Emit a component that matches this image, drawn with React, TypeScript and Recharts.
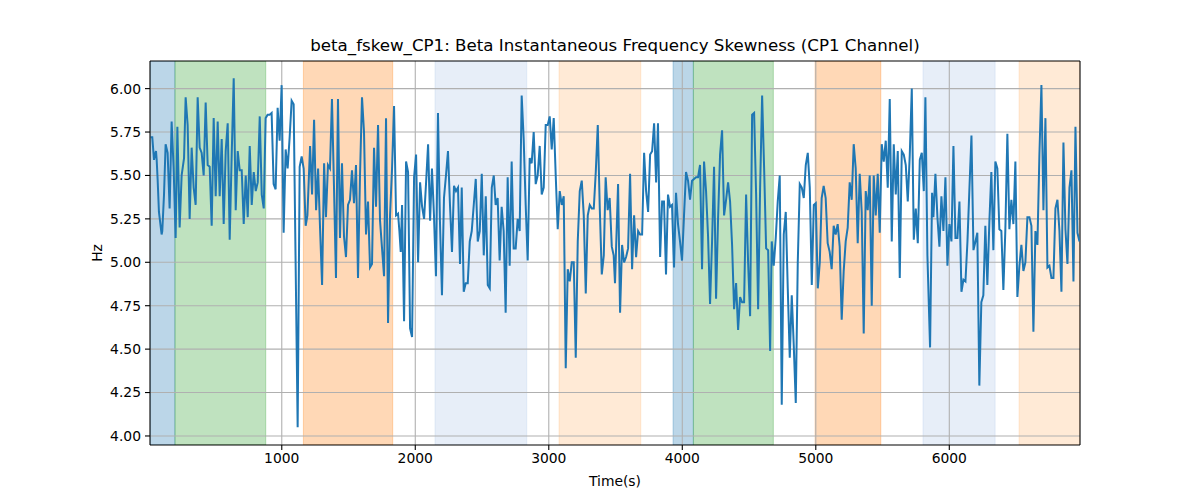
import React from 'react';
import { LineChart, Line, XAxis, YAxis, ReferenceArea, ReferenceLine } from 'recharts';

const TIMES = [
  18,30,43,50,58,63,70,80,100,105,
  118,130,145,160,175,190,205,218,235,250,
  268,280,295,310,325,340,355,370,385,400,
  415,430,445,460,475,490,505,520,535,550,
  565,580,595,610,625,640,655,670,685,700,
  715,730,745,760,775,790,805,820,835,850,
  865,879,894,909,924,939,954,969,984,999,
  1014,1029,1044,1059,1074,1089,1119,1134,1149,1164,
  1179,1192,1212,1227,1242,1257,1272,1287,1302,1317,
  1331,1346,1361,1376,1391,1406,1421,1436,1451,1466,
  1481,1496,1511,1526,1541,1556,1571,1586,1601,1616,
  1631,1646,1661,1676,1691,1706,1721,1736,1751,1766,
  1781,1796,1811,1826,1841,1856,1871,1881,1891,1901,
  1916,1931,1946,1961,1976,1991,2006,2021,2036,2051,
  2066,2081,2096,2111,2125,2140,2155,2170,2185,2200,
  2215,2230,2245,2260,2275,2290,2305,2320,2335,
  2348,2363,2378,2393,2408,2423,2438,2453,2468,2483,
  2498,2513,2528,2543,2558,2573,2588,2602,2617,2632,
  2647,2662,2677,2692,2707,2722,2737,2752,2767,2782,
  2797,2812,2827,2842,2857,2872,2887,2902,2917,2932,
  2947,2962,2977,2992,3007,3022,3037,3052,3067,3082,
  3097,3112,3127,3142,3157,3172,3187,3202,3217,3232,
  3247,3262,3277,3292,3307,3322,3337,3352,3367,3382,
  3397,3412,3426,3441,3456,3472,3486,3496,
  3519,3534,3549,3564,3579,3594,3609,3624,3639,3654,
  3669,3684,3699,3714,3729,3744,3759,3774,3789,3804,
  3818,3834,3849,3863,3878,3893,3908,3923,3938,3953,
  3968,3983,3998,4013,4028,4043,4058,4073,4088,4103,
  4118,4133,4148,4163,4178,4193,4208,4223,4238,4253,
  4268,4283,4298,4313,4328,4343,4358,4373,4388,4403,
  4418,4433,4448,4463,4478,4493,4508,4523,4538,4553,
  4568,4583,4598,4613,4628,4643,4658,
  4670,4685,4700,4715,4730,4745,4760,4775,4790,4805,
  4820,4835,4850,4865,4880,4895,4910,4925,4940,4955,
  4970,4985,5000,5015,5030,5044,5059,5074,5089,5104,
  5119,5134,5149,5164,5179,5194,5209,5224,5239,5254,
  5269,5284,5299,5314,5329,5344,5359,5374,5389,5404,
  5419,5434,5449,5464,5479,5494,5509,5524,5539,5554,
  5569,5584,5599,5614,5629,5644,5659,5674,5689,5704,
  5719,5734,5749,5764,5779,5794,5809,
  5821,5836,5856,5871,5881,5896,5911,5926,5941,5956,
  5971,5986,6001,6016,6031,6046,6061,6076,6091,6106,
  6121,6136,6151,6166,6181,6196,6210,6225,6240,6255,
  6270,6285,6300,6315,6330,6345,6360,6375,6390,6405,
  6420,6435,6450,6465,6480,6495,6510,6525,6540,6555,
  6570,6585,6600,6615,6630,6645,6660,6675,6690,6705,
  6720,6735,6750,6765,6780,6795,6810,6825,6840,6855,
  6870,6885,6900,6915,6930,6945,6960,6975,
];

const VALUES = [
  5.72,5.72,5.59,5.62,5.64,5.59,5.48,5.29,5.16,5.18,
  5.39,5.68,5.63,5.31,5.81,5.54,5.14,5.78,5.20,5.50,
  5.60,5.95,5.79,5.25,5.66,5.43,5.33,5.95,5.66,5.63,
  5.50,5.92,5.56,5.55,5.21,5.83,5.38,5.81,5.38,5.71,
  5.22,5.64,5.80,5.13,5.62,6.06,5.30,5.64,5.53,5.53,
  5.22,5.50,5.26,5.67,5.33,5.52,5.41,5.46,5.84,5.39,
  5.31,5.83,5.85,5.85,5.86,5.45,5.42,5.89,5.70,6.02,
  5.17,5.65,5.54,5.72,5.93,5.91,4.05,5.55,5.61,5.54,
  5.21,5.27,5.67,5.39,5.82,5.30,5.54,5.19,4.87,5.57,
  5.26,5.56,5.54,5.94,5.44,4.91,5.94,5.14,5.57,5.15,
  5.03,5.33,5.36,5.53,5.34,5.56,4.91,5.50,5.95,5.75,
  5.16,5.35,4.97,4.99,5.66,5.32,5.79,5.24,5.08,4.92,
  5.83,4.65,5.27,5.54,5.90,5.27,5.28,5.18,5.06,5.33,
  4.66,5.58,5.52,4.62,4.57,5.49,5.62,5.00,5.46,5.32,
  5.25,5.46,5.68,5.24,5.54,5.27,4.92,5.86,5.23,4.81,
  5.37,5.50,5.64,5.33,5.06,5.44,5.41,5.43,4.99,
  5.43,4.83,4.88,4.88,5.12,5.18,5.33,5.48,5.12,5.18,
  5.51,5.04,5.38,4.87,4.85,5.43,5.50,5.33,5.37,5.01,
  5.32,5.18,4.71,5.49,4.98,5.58,5.08,5.08,5.25,5.18,
  5.96,5.71,5.33,5.01,5.60,5.57,5.75,5.45,5.50,5.67,
  5.39,5.43,5.79,5.79,5.84,5.65,5.83,5.50,5.19,5.41,
  5.33,5.38,4.39,4.96,4.89,5.00,5.00,4.45,5.12,5.41,
  5.47,5.27,4.82,5.27,5.33,5.31,5.31,5.52,5.79,5.31,
  4.93,5.04,5.49,5.30,5.37,5.09,5.04,4.88,
  5.45,4.71,5.10,5.00,5.03,5.08,5.51,4.96,5.27,5.03,
  5.18,5.16,5.16,5.63,5.41,5.29,5.62,5.64,5.80,5.46,
  5.80,5.03,5.35,5.35,4.93,5.39,5.32,5.33,4.97,5.40,
  5.22,5.12,5.01,5.27,5.52,5.47,5.36,5.47,5.48,5.49,
  5.49,5.56,4.96,5.58,5.41,5.15,4.76,5.12,5.55,4.79,
  5.25,5.62,5.76,5.27,5.36,5.46,5.35,5.10,4.73,4.88,
  4.61,4.80,4.77,4.77,5.39,5.00,4.69,5.85,5.86,5.39,
  4.73,5.43,5.96,5.54,5.08,5.07,4.49,
  5.12,4.98,5.14,5.35,5.50,4.18,5.16,5.29,4.85,4.45,
  4.81,4.52,4.19,5.00,5.45,5.43,5.37,5.56,5.63,5.43,
  4.87,5.33,5.34,4.85,5.00,5.37,5.44,5.37,5.11,5.06,
  4.96,5.21,5.16,5.22,5.09,4.67,4.95,5.12,5.20,5.46,
  5.36,5.68,5.54,5.11,5.51,5.29,4.59,5.41,5.30,5.50,
  4.75,5.50,5.27,5.51,5.17,5.68,5.58,5.70,5.43,5.94,
  5.12,5.68,5.39,5.64,4.91,5.64,5.62,5.56,5.35,5.62,
  6.00,5.13,5.31,5.11,5.59,5.63,5.41,
  5.95,5.04,4.51,5.40,5.26,5.51,5.26,5.09,5.38,5.18,
  5.49,4.98,5.22,5.12,5.67,5.14,5.14,5.35,4.83,4.90,
  4.89,5.12,5.43,5.73,5.07,5.12,5.17,4.29,4.77,4.81,
  5.21,4.87,5.23,5.52,5.07,5.58,5.54,5.19,5.18,4.84,
  5.19,5.74,5.19,5.36,5.22,5.58,4.80,4.98,5.10,4.95,
  5.00,5.26,5.26,5.21,4.60,5.18,5.10,5.62,6.02,5.30,
  5.83,4.97,4.98,4.91,4.91,5.31,5.36,5.18,4.83,5.69,
  5.19,4.99,5.43,5.53,4.89,5.78,5.17,5.12,
];

const X_TICKS = [1000, 2000, 3000, 4000, 5000, 6000];
const Y_TICKS = [4.0, 4.25, 4.5, 4.75, 5.0, 5.25, 5.5, 5.75, 6.0];
const X_DOMAIN: [number, number] = [13, 6979];
const Y_DOMAIN: [number, number] = [3.948, 6.159];

const SPAN_START = [13, 200, 1162, 2148, 3077, 3931, 4083, 4995, 5803, 6523];
const SPAN_END = [200, 880, 1831, 2835, 3689, 4083, 4682, 5487, 6343, 6979];
const SPAN_COLOR = ['#1f77b4', '#2ca02c', '#ff7f0e', '#aec7e8', '#ffbb78', '#1f77b4', '#2ca02c', '#ff7f0e', '#aec7e8', '#ffbb78'];

const TITLE = 'beta_fskew_CP1: Beta Instantaneous Frequency Skewness (CP1 Channel)';
const X_LABEL = 'Time(s)';
const Y_LABEL = 'Hz';

const data = TIMES.map((t, i) => ({ t, v: VALUES[i] }));

const FONT = '"DejaVu Sans", sans-serif';
const TICK_FS = 13.89;

export default function App() {
  return (
    <div style={{ position: 'absolute', left: 0, top: 0, width: 1200, height: 500, background: '#fff', fontFamily: FONT }}>
      <div style={{ position: 'absolute', left: 150, width: 930, top: 35, lineHeight: '22px', fontSize: 16.67, textAlign: 'center', color: '#000' }}>{TITLE}</div>
      <LineChart width={1200} height={500} data={data} margin={{ top: 61, right: 120, left: 0, bottom: 0 }}>
        <XAxis
          dataKey="t"
          type="number"
          domain={X_DOMAIN}
          ticks={X_TICKS}
          allowDataOverflow
          height={55}
          stroke="#000"
          strokeWidth={1.1}
          tick={{ fill: '#000', fontSize: TICK_FS, fontFamily: FONT }}
          tickSize={5}
          tickMargin={3}
        />
        <YAxis
          type="number"
          domain={Y_DOMAIN}
          ticks={Y_TICKS}
          allowDataOverflow
          width={150}
          stroke="#000"
          strokeWidth={1.1}
          tick={{ fill: '#000', fontSize: TICK_FS, fontFamily: FONT }}
          tickSize={5}
          tickMargin={4}
          tickFormatter={(v: number) => v.toFixed(2)}
        />
        {SPAN_START.map((s, i) => (
          <ReferenceArea key={'a' + i} x1={s} x2={SPAN_END[i]} fill={SPAN_COLOR[i]} fillOpacity={0.3} stroke={SPAN_COLOR[i]} strokeOpacity={0.3} strokeWidth={1} ifOverflow="hidden" />
        ))}
        {X_TICKS.map((x) => (
          <ReferenceLine key={'gx' + x} x={x} stroke="#b0b0b0" strokeWidth={1.1} />
        ))}
        {Y_TICKS.map((y) => (
          <ReferenceLine key={'gy' + y} y={y} stroke="#b0b0b0" strokeWidth={1.1} />
        ))}
        <ReferenceLine y={Y_DOMAIN[1]} stroke="#000" strokeWidth={1.1} />
        <ReferenceLine x={X_DOMAIN[1]} stroke="#000" strokeWidth={1.1} />
        <Line type="linear" dataKey="v" stroke="#1f77b4" strokeWidth={2} dot={false} isAnimationActive={false} />
      </LineChart>
      <div style={{ position: 'absolute', left: 150, width: 930, top: 471, lineHeight: '20px', fontSize: TICK_FS, textAlign: 'center', color: '#000' }}>{X_LABEL}</div>
      <div style={{ position: 'absolute', left: 77, top: 243, width: 40, height: 20, lineHeight: '20px', fontSize: TICK_FS, textAlign: 'center', color: '#000', transform: 'rotate(-90deg)' }}>{Y_LABEL}</div>
    </div>
  );
}
